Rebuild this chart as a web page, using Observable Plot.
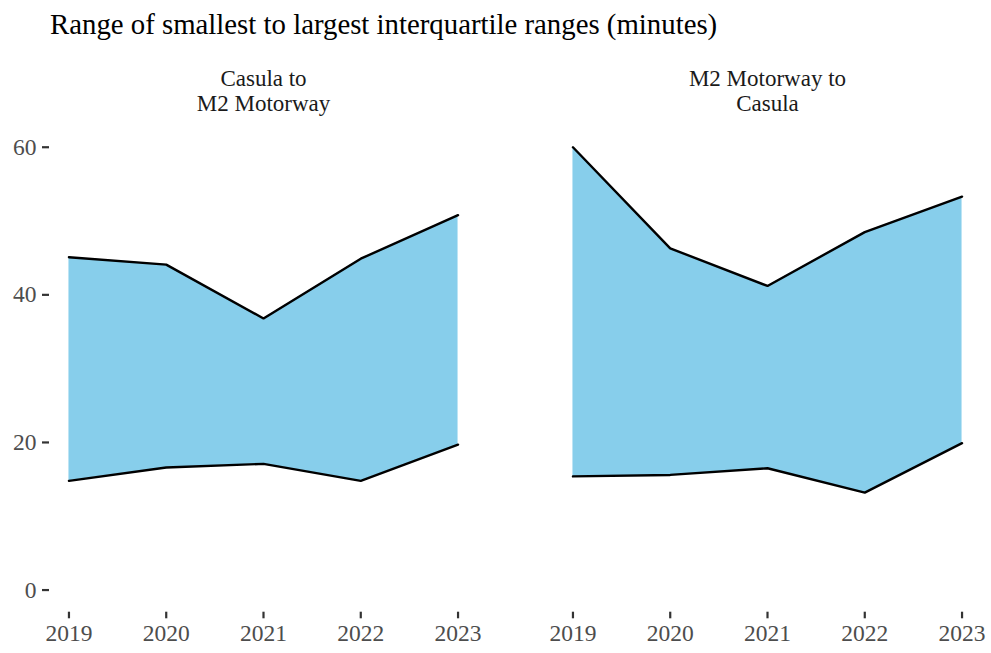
<!DOCTYPE html>
<html>
<head>
<meta charset="utf-8">
<script src="https://cdn.jsdelivr.net/npm/d3@7"></script>
<script src="https://cdn.jsdelivr.net/npm/@observablehq/plot@0.6"></script>
<style>
  body { margin: 0; background: #fff; font-family: "Liberation Serif", serif; }
  #title { margin: 0; padding: 7.6px 0 0 50px; height: 40.4px; font-size: 28.8px; line-height: normal; color: #000; font-weight: normal; white-space: nowrap; }
  svg { display: block; }
</style>
</head>
<body>
<div id="title">Range of smallest to largest interquartile ranges (minutes)</div>
<div id="chart"></div>
<script>
const years = [2019, 2020, 2021, 2022, 2023];
const directions = ["Casula to\nM2 Motorway", "M2 Motorway to\nCasula"];
const lowerCasulaToM2 = [14.8, 16.6, 17.1, 14.8, 19.7];
const upperCasulaToM2 = [45.1, 44.1, 36.8, 44.9, 50.8];
const lowerM2ToCasula = [15.4, 15.6, 16.5, 13.2, 19.9];
const upperM2ToCasula = [60.0, 46.3, 41.2, 48.5, 53.3];
const yTicks = [0, 20, 40, 60];

const data = [];
years.forEach((yr, i) => {
  data.push({dir: directions[0], year: yr, low: lowerCasulaToM2[i], high: upperCasulaToM2[i]});
});
years.forEach((yr, i) => {
  data.push({dir: directions[1], year: yr, low: lowerM2ToCasula[i], high: upperM2ToCasula[i]});
});

const chart = Plot.plot({
  width: 991,
  height: 605,
  marginTop: 76.6,
  marginBottom: 41.3,
  marginLeft: 48.8,
  marginRight: 9.2,
  style: {fontFamily: "'Liberation Serif', serif", background: "#fff"},
  fx: {domain: directions, paddingInner: 0.15, paddingOuter: 0},
  x: {domain: [2018.8, 2023.2]},
  y: {domain: [-3, 63]},
  marks: [
    Plot.areaY(data, {x: "year", y1: "low", y2: "high", fx: "dir", fill: "#87CEEB"}),
    Plot.lineY(data, {x: "year", y: "low", fx: "dir", stroke: "#000", strokeWidth: 2.4, strokeLinejoin: "miter"}),
    Plot.lineY(data, {x: "year", y: "high", fx: "dir", stroke: "#000", strokeWidth: 2.4, strokeLinejoin: "miter"}),
    Plot.axisFx({anchor: "top", tickSize: 0, tickPadding: 14.6, fontSize: 23, lineHeight: 1.087, fill: "#1a1a1a", label: null}),
    Plot.axisX({ticks: years, tickFormat: "d", tickSize: 6.6, tickPadding: 5.4, fontSize: 23.5, stroke: "#333", strokeWidth: 2.2, fill: "#4d4d4d", label: null}),
    Plot.axisY({ticks: yTicks, tickSize: 7, tickPadding: 6, fontSize: 23.5, stroke: "#333", strokeWidth: 2.2, fill: "#4d4d4d", label: null})
  ]
});
document.getElementById("chart").appendChild(chart);
</script>
</body>
</html>
